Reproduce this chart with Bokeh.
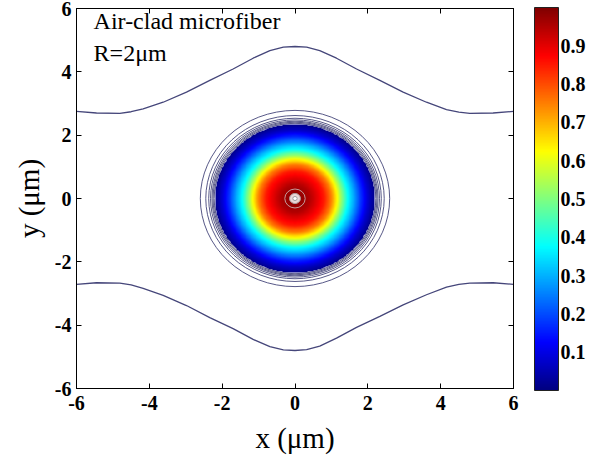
import numpy as np
from bokeh.plotting import figure
from bokeh.models import (Range1d, LinearAxis, FixedTicker, ColorBar,
                          LinearColorMapper, Label)
from bokeh.embed import file_html
from bokeh.resources import INLINE

# ---- data -------------------------------------------------------------
# radial profile of the normalised mode field inside the fiber (x direction, um)
profile_r = [0.0, 0.4, 0.8, 1.0, 1.15, 1.3, 1.45, 1.6, 1.8, 2.0, 2.2]
profile_v = [1.0, 0.95, 0.85, 0.75, 0.63, 0.5, 0.38, 0.30, 0.18, 0.08, 0.01]
y_stretch = 1.07          # field is slightly taller than wide

# low-level contour rings around the core (x semi-axis, um)
ring_r = [2.22, 2.25, 2.28, 2.32, 2.37, 2.45, 2.60]

# outer evanescent contour
outer_x = [-6.0, -5.45, -4.81, -4.5, -4.17, -3.62, -2.98, -2.34, -1.70, -1.15,
           -0.69, -0.32, 0.0, 0.32, 0.68, 1.14, 1.69, 2.33, 2.97, 3.61, 4.16,
           4.5, 4.80, 5.44, 6.0]
outer_upper = [2.75, 2.70, 2.69, 2.74, 2.83, 3.04, 3.36, 3.73, 4.09, 4.43,
               4.67, 4.78, 4.80, 4.78, 4.67, 4.43, 4.09, 3.73, 3.36, 3.04,
               2.81, 2.73, 2.69, 2.70, 2.75]
outer_lower = [-2.71, -2.66, -2.67, -2.73, -2.84, -3.06, -3.38, -3.76, -4.11,
               -4.45, -4.68, -4.78, -4.80, -4.77, -4.66, -4.41, -4.07, -3.72,
               -3.36, -3.04, -2.80, -2.71, -2.67, -2.66, -2.71]

# small artefact rings at the field maximum
centre_r = [0.28, 0.15, 0.06]

x_ticks = [-6, -4, -2, 0, 2, 4, 6]
y_ticks = [-6, -4, -2, 0, 2, 4, 6]
cbar_ticks = [0.1, 0.2, 0.3, 0.4, 0.5, 0.6, 0.7, 0.8, 0.9]

SERIF = "Liberation Serif"
LINE = "#45467a"


def jet(n):
    cols = []
    for i in range(n):
        t = i / (n - 1)
        r = min(max(1.5 - abs(4 * t - 3), 0), 1)
        g = min(max(1.5 - abs(4 * t - 2), 0), 1)
        b = min(max(1.5 - abs(4 * t - 1), 0), 1)
        cols.append("#%02x%02x%02x" % (int(r * 255), int(g * 255), int(b * 255)))
    return cols


# ---- field on a grid ----------------------------------------------------
n = 700
gx = np.linspace(-6, 6, n)
gy = np.linspace(-6, 6, n)
X, Y = np.meshgrid(gx, gy)
R = np.sqrt(X ** 2 + (Y / y_stretch) ** 2)
field = np.interp(R, profile_r, profile_v)
field[R > profile_r[-1]] = np.nan

mapper = LinearColorMapper(palette=jet(256), low=0.0, high=1.0,
                           nan_color=(0, 0, 0, 0))

p = figure(width=602, height=464, x_range=Range1d(-6, 6), y_range=Range1d(-6, 6),
           output_backend="svg", toolbar_location=None,
           min_border_left=76, min_border_right=89, min_border_top=8,
           min_border_bottom=76)
p.grid.visible = False
p.outline_line_color = "black"
p.background_fill_color = "white"
p.border_fill_color = "white"

p.image(image=[field], x=-6, y=-6, dw=12, dh=12, color_mapper=mapper)

# contour rings around the core
p.ellipse(x=[0] * len(ring_r), y=[0] * len(ring_r),
          width=[2 * r for r in ring_r],
          height=[2 * r * y_stretch for r in ring_r],
          fill_color=None, line_color=LINE, line_width=1.0, line_alpha=0.9)

# centre artefact
p.ellipse(x=[0] * 3, y=[0] * 3,
          width=[2 * r for r in centre_r],
          height=[2 * r * y_stretch for r in centre_r],
          fill_color=[None, "#e8d6d6", "#ffffff"],
          line_color=["#c49a9a", "#b09a9a", "#a0a0a0"], line_width=1)

# outer contour lines
p.line(outer_x, outer_upper, line_color=LINE, line_width=1.3)
p.line(outer_x, outer_lower, line_color=LINE, line_width=1.3)

# ---- axes ----------------------------------------------------------------
for ax in (p.xaxis[0], p.yaxis[0]):
    ax.major_tick_in = 5
    ax.major_tick_out = 0
    ax.minor_tick_line_color = None
    ax.axis_line_color = "black"
    ax.major_tick_line_color = "black"
    ax.major_label_text_font = SERIF
    ax.major_label_text_font_style = "bold"
    ax.major_label_text_font_size = "20px"
    ax.major_label_text_color = "black"
    ax.axis_label_text_font = SERIF
    ax.axis_label_text_font_style = "normal"
    ax.axis_label_text_font_size = "29px"
    ax.axis_label_text_color = "black"

p.xaxis[0].ticker = FixedTicker(ticks=x_ticks)
p.yaxis[0].ticker = FixedTicker(ticks=y_ticks)
p.xaxis[0].major_label_overrides = {t: str(t) for t in x_ticks}
p.yaxis[0].major_label_overrides = {t: str(t) for t in y_ticks}
p.xaxis[0].axis_label = "x (μm)"
p.yaxis[0].axis_label = "y (μm)"
p.xaxis[0].major_label_standoff = 7
p.yaxis[0].major_label_standoff = 5
p.xaxis[0].axis_label_standoff = 9
p.yaxis[0].axis_label_standoff = 7

top_ax = LinearAxis(ticker=FixedTicker(ticks=x_ticks), major_tick_in=5,
                    major_tick_out=0, minor_tick_line_color=None,
                    major_label_overrides={t: "" for t in x_ticks},
                    major_label_standoff=0, axis_line_color="black")
right_ax = LinearAxis(ticker=FixedTicker(ticks=y_ticks), major_tick_in=5,
                      major_tick_out=0, minor_tick_line_color=None,
                      major_label_overrides={t: "" for t in y_ticks},
                      major_label_standoff=0, axis_line_color="black")
p.add_layout(top_ax, "above")
p.add_layout(right_ax, "right")

cbar = ColorBar(color_mapper=mapper, ticker=FixedTicker(ticks=cbar_ticks),
                width=24, height=383, padding=0, margin=0,
                location=(21, -2),
                bar_line_color="#222222",
                major_tick_line_color=None, minor_tick_line_color=None,
                major_label_text_font=SERIF, major_label_text_font_style="bold",
                major_label_text_font_size="20px",
                major_label_text_color="black", label_standoff=2,
                background_fill_color="white")
p.add_layout(cbar, "right")

# ---- annotation ---------------------------------------------------------
p.add_layout(Label(x=-5.53, y=5.18, text="Air-clad  microfiber",
                   text_font=SERIF, text_font_size="24px", text_color="black"))
p.add_layout(Label(x=-5.53, y=4.2, text="R=2μm",
                   text_font=SERIF, text_font_size="24px", text_color="black"))

open("out.html", "w").write(file_html(p, INLINE))
